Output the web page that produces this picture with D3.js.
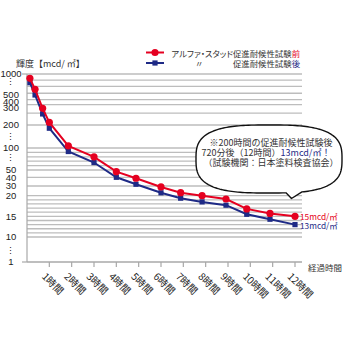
<!DOCTYPE html>
<html><head><meta charset="utf-8">
<script src="https://cdn.jsdelivr.net/npm/d3@7"></script>
<style>
body{margin:0;background:#fff}
svg{display:block}
text{font-family:"Noto Sans CJK JP","Noto Sans",sans-serif}
</style>
</head><body>
<svg id="c" width="350" height="350"></svg>
<script>
// ---- data ----
const hours  = [0.13, 0.36, 0.70, 1, 1.85, 3, 4, 4.88, 6, 6.88, 7.84, 8.91, 9.84, 10.88, 12];
const before = [895, 627, 298, 215, 109, 80, 47.7, 38.9, 29, 23.1, 20, 19.2, 16.8, 15.7, 15];
const after  = [788, 493, 265, 186, 92, 67, 40, 32, 23, 19.4, 18.5, 17.7, 15.5, 14.3, 13];
const xTickHours  = [1,2,3,4,5,6,7,8,9,10,11,12];
const xTickLabels = ["1時間","2時間","3時間","4時間","5時間","6時間","7時間","8時間","9時間","10時間","11時間","12時間"];
const yTickValues = [1000, 500, 400, 300, 200, 100, 50, 40, 30, 20, 15, 10, 1];
const yTickLabels = ["1000","500","400","300","200","100","50","40","30","20","15","10","1"];
const yBreakValues = [800, 150, 78, 5];
const gridValues = [1000,850,700,530,425,350,270,200,100,90,80,70,60,50,40,30,20,19,18,17,16,15,14,13,12,11,10];
const seriesNames = ["アルファ・スタッド促進耐候性試験", "促進耐候性試験"];
const endLabels = ["15mcd/㎡", "13mcd/㎡"];
const noteLines = ["※200時間の促進耐候性試験後", "720分後（12時間）", "13mcd/㎡！", "（試験機関：日本塗料検査協会）"];

// ---- layout ----
const RED = "#e50020", BLUE = "#1e2a86", GRID = "#bdbdbd", AXIS = "#a8a8a8", TXT = "#333";
const L = 27, R = 302, X12 = 295;
// piecewise (broken) value axis, as drawn in the original
const yStops   = [1,   10,  20,    30,  40,    50,  100, 200, 300, 400,   500,  1000];
const yStopPos = [262, 237, 195.7, 186, 177.3, 170, 148, 125, 108, 101.2, 94.5, 74];

const svg = d3.select("#c");
const x = d3.scaleLinear().domain([0, 12]).range([L, X12]);
const y = d3.scaleLinear().domain(yStops).range(yStopPos);

// gridlines
svg.append("g").selectAll("line").data(gridValues).join("line")
  .attr("x1", L).attr("x2", R).attr("y1", d => y(d)).attr("y2", d => y(d))
  .attr("stroke", GRID).attr("stroke-width", 1.3);

// axes
svg.append("line").attr("x1", L).attr("x2", L).attr("y1", y(1000)).attr("y2", y(1))
  .attr("stroke", AXIS).attr("stroke-width", 1.2);
svg.append("line").attr("x1", L).attr("x2", R).attr("y1", y(1)).attr("y2", y(1))
  .attr("stroke", AXIS).attr("stroke-width", 1.5);
svg.append("g").selectAll("line").data([1000, 1]).join("line")
  .attr("x1", L - 5).attr("x2", L).attr("y1", d => y(d)).attr("y2", d => y(d))
  .attr("stroke", AXIS).attr("stroke-width", 1.2);
svg.append("g").selectAll("line").data(xTickHours).join("line")
  .attr("x1", d => x(d)).attr("x2", d => x(d)).attr("y1", y(1)).attr("y2", y(1) + 5)
  .attr("stroke", AXIS).attr("stroke-width", 1.2);

// y labels
svg.append("g").selectAll("text").data(yTickValues).join("text")
  .attr("x", 11).attr("y", d => y(d)).attr("dy", "0.35em")
  .attr("text-anchor", "middle").attr("font-size", 9.5).attr("fill", "#222")
  .style("font-family", "'Liberation Sans Narrow','Liberation Sans',Arial,sans-serif")
  .text((d, i) => yTickLabels[i]);
svg.append("g").selectAll("text").data(yBreakValues).join("text")
  .attr("x", 10).attr("y", d => y(d)).attr("dy", "0.35em")
  .attr("text-anchor", "middle").attr("font-size", 9).attr("fill", "#222")
  .text("⋮");

// x labels
svg.append("g").selectAll("text").data(xTickHours).join("text")
  .attr("transform", d => `translate(${x(d) - 5},${y(1) + 12}) rotate(45)`)
  .attr("dominant-baseline", "central")
  .attr("font-size", 10).attr("fill", "#222")
  .text((d, i) => xTickLabels[i]);

svg.append("text").attr("x", 308).attr("y", 267).attr("font-size", 8.5).attr("fill", TXT)
  .attr("dominant-baseline", "central").text("経過時間");

svg.append("text").attr("x", 16).attr("y", 63).attr("font-size", 9).attr("fill", TXT)
  .attr("dominant-baseline", "central").text("輝度【mcd/ ㎡】");

// series
const line = d3.line().x(d => x(d[0])).y(d => y(d[1]));
const dBefore = hours.map((h, i) => [h, before[i]]);
const dAfter  = hours.map((h, i) => [h, after[i]]);
svg.append("path").datum(dAfter).attr("d", line).attr("fill", "none").attr("stroke", BLUE).attr("stroke-width", 2);
svg.append("g").selectAll("rect").data(dAfter).join("rect")
  .attr("x", d => x(d[0]) - 2.6).attr("y", d => y(d[1]) - 2.6).attr("width", 5.2).attr("height", 5.2).attr("fill", BLUE);
svg.append("path").datum(dBefore).attr("d", line).attr("fill", "none").attr("stroke", RED).attr("stroke-width", 2);
svg.append("g").selectAll("circle").data(dBefore).join("circle")
  .attr("cx", d => x(d[0])).attr("cy", d => y(d[1])).attr("r", 3.6).attr("fill", RED);

// end labels
svg.append("text").attr("x", x(12) + 5).attr("y", y(before[before.length - 1]) - 0.5)
  .attr("dominant-baseline", "central").attr("font-size", 8.3).attr("fill", RED).text(endLabels[0]);
svg.append("text").attr("x", x(12) + 5).attr("y", y(after[after.length - 1]) + 0.5)
  .attr("dominant-baseline", "central").attr("font-size", 8.3).attr("fill", BLUE).text(endLabels[1]);

// legend
const lg = svg.append("g");
lg.append("line").attr("x1", 146).attr("x2", 164).attr("y1", 52.5).attr("y2", 52.5).attr("stroke", RED).attr("stroke-width", 2);
lg.append("circle").attr("cx", 155).attr("cy", 52.5).attr("r", 3.6).attr("fill", RED);
lg.append("line").attr("x1", 146).attr("x2", 164).attr("y1", 63).attr("y2", 63).attr("stroke", BLUE).attr("stroke-width", 2);
lg.append("rect").attr("x", 152.4).attr("y", 60.4).attr("width", 5.2).attr("height", 5.2).attr("fill", BLUE);
const t1 = lg.append("text").attr("x", 300).attr("y", 52.5).attr("text-anchor", "end")
  .attr("dominant-baseline", "central").attr("font-size", 8.4).attr("fill", TXT)
  .style("font-feature-settings", "'palt'");
t1.append("tspan").text(seriesNames[0]);
t1.append("tspan").attr("fill", RED).text("前");
lg.append("text").attr("x", 195).attr("y", 63).attr("dominant-baseline", "central")
  .attr("font-size", 8.4).attr("fill", TXT).text("〃");
const t2 = lg.append("text").attr("x", 300).attr("y", 63).attr("text-anchor", "end")
  .attr("dominant-baseline", "central").attr("font-size", 8.4).attr("fill", TXT);
t2.append("tspan").text(seriesNames[1]);
t2.append("tspan").attr("fill", BLUE).text("後");

// speech bubble
const cx = 269, cy = 159, a = 73, b = 34, n = 3;
const se = t => [cx + a * Math.sign(Math.cos(t)) * Math.pow(Math.abs(Math.cos(t)), 2 / n),
                 cy + b * Math.sign(Math.sin(t)) * Math.pow(Math.abs(Math.sin(t)), 2 / n)];
const tStart = 1.458, tEnd = 1.262 + 2 * Math.PI;
const pts = d3.range(0, 201).map(k => se(tStart + (tEnd - tStart) * k / 200));
pts.push([291.5, 198.5]);
svg.append("path").attr("d", "M" + pts.map(p => p.join(",")).join("L") + "Z")
  .attr("fill", "#fff").attr("stroke", "#111").attr("stroke-width", 1.4).attr("stroke-linejoin", "round");

const nt = svg.append("g").attr("font-size", 9).attr("fill", TXT).attr("text-anchor", "middle");
nt.append("text").attr("x", 271).attr("y", 142).attr("dominant-baseline", "central").text(noteLines[0]);
const l2 = nt.append("text").attr("x", 266).attr("y", 152).attr("dominant-baseline", "central");
l2.append("tspan").text(noteLines[1]);
l2.append("tspan").attr("fill", BLUE).text(noteLines[2]);
nt.append("text").attr("x", 271).attr("y", 162).attr("dominant-baseline", "central").text(noteLines[3]);
</script>
</body></html>
